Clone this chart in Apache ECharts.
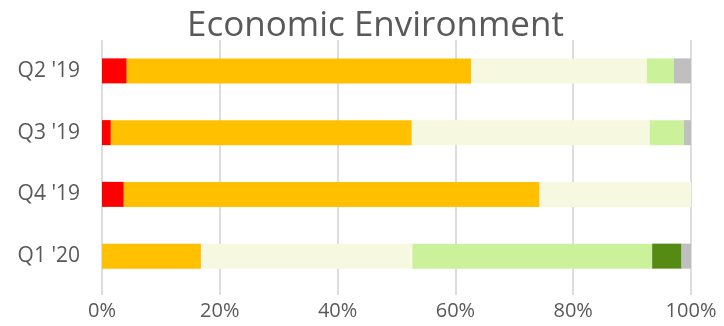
<!DOCTYPE html>
<html>
<head>
<meta charset="utf-8">
<script src="https://cdn.jsdelivr.net/npm/echarts@6/dist/echarts.min.js"></script>
<style>
  html, body { margin: 0; padding: 0; background: #ffffff; }
  #chart { width: 724px; height: 326px; }
</style>
</head>
<body>
<div id="chart"></div>
<script>
// Quarters, top to bottom
const quarters = ["Q2 '19", "Q3 '19", "Q4 '19", "Q1 '20"];

// Share of responses per outlook level (percent of each quarter)
const muchWorse  = [4.2, 1.5, 3.7, 0];
const worse      = [58.5, 51.1, 70.6, 16.8];
const same       = [29.8, 40.4, 25.7, 35.9];
const better     = [4.6, 5.8, 0, 40.7];
const muchBetter = [0, 0, 0, 5.0];
const unsure     = [2.9, 1.2, 0, 1.6];

const xTicks = [0, 20, 40, 60, 80, 100];

const levels = [
  { name: 'Much worse',  data: muchWorse,  color: '#FF0000' },
  { name: 'Worse',       data: worse,      color: '#FFC000' },
  { name: 'Same',        data: same,       color: '#F6F9E0' },
  { name: 'Better',      data: better,     color: '#CBF29A' },
  { name: 'Much better', data: muchBetter, color: '#558B13' },
  { name: 'Unsure',      data: unsure,     color: '#BFBFBF' }
];

const textColor = '#595959';
const font = '"Open Sans", "Noto Sans", sans-serif';

const chart = echarts.init(document.getElementById('chart'), null, { renderer: 'canvas' });

chart.setOption({
  animation: false,
  backgroundColor: '#ffffff',
  title: {
    text: 'Economic Environment',
    left: 182,
    top: 4,
    textStyle: { color: textColor, fontFamily: font, fontSize: 35, fontWeight: 'normal' }
  },
  grid: { left: 102, right: 33, top: 40, bottom: 39, containLabel: false },
  xAxis: {
    type: 'value',
    min: xTicks[0],
    max: xTicks[xTicks.length - 1],
    interval: xTicks[1] - xTicks[0],
    axisLine: { show: false },
    axisTick: { show: true, length: 8, lineStyle: { color: '#DDDDDD', width: 2 } },
    splitLine: { show: true, lineStyle: { color: '#DDDDDD', width: 2 } },
    axisLabel: {
      formatter: v => v + '%',
      color: textColor, fontFamily: font, fontSize: 20, margin: 14
    }
  },
  yAxis: {
    type: 'category',
    data: quarters,
    inverse: true,
    axisLine: { show: false },
    axisTick: { show: false },
    axisLabel: { color: textColor, fontFamily: font, fontSize: 21, margin: 22 }
  },
  series: levels.map(l => ({
    name: l.name,
    type: 'bar',
    stack: 'total',
    barWidth: 25,
    data: l.data,
    itemStyle: { color: l.color },
    emphasis: { disabled: true }
  }))
});
</script>
</body>
</html>
